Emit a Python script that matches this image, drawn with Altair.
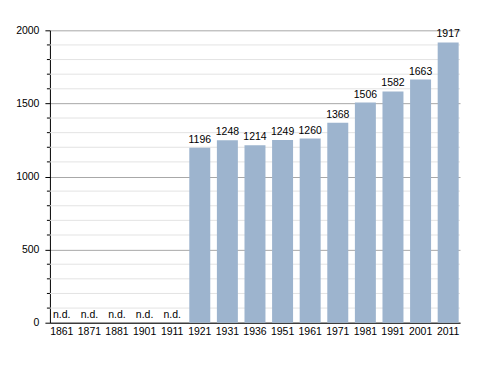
import altair as alt
import pandas as pd

years = ["1861", "1871", "1881", "1901", "1911", "1921", "1931", "1936",
         "1951", "1961", "1971", "1981", "1991", "2001", "2011"]
values = [None, None, None, None, None, 1196, 1248, 1214, 1249, 1260,
          1368, 1506, 1582, 1663, 1917]
major_ticks = [0, 500, 1000, 1500, 2000]
minor_ticks = [v for v in range(100, 2000, 100) if v % 500 != 0]

df = pd.DataFrame({
    "year": years,
    "value": values,
    "label": [str(v) if v is not None else "n.d." for v in values],
    "ypos": [v if v is not None else 0 for v in values],
})
minor_df = pd.DataFrame({"v": minor_ticks})

FONT = "Liberation Sans"
FS = 10.5
yscale = alt.Scale(domain=[0, 2000], nice=False)
yaxis = alt.Axis(values=major_ticks, format="d", tickSize=5, tickColor="#000",
                 domainColor="#000", grid=True, gridColor="#a8a8a8",
                 labelColor="#000", labelFont=FONT, labelFontSize=FS,
                 labelPadding=6)

x = alt.X("year:O", sort=years, title=None,
          scale=alt.Scale(paddingInner=0.24, paddingOuter=0.05),
          axis=alt.Axis(labelAngle=0, ticks=False, domainColor="#000",
                        labelColor="#000", labelFont=FONT, labelFontSize=FS,
                        labelPadding=4, grid=False))

minor_grid = alt.Chart(minor_df).mark_rule(color="#e3e3e3", strokeWidth=1).encode(
    y=alt.Y("v:Q", scale=yscale, title=None, axis=yaxis),
    x=alt.value(0), x2=alt.value(411),
)
minor_tick = alt.Chart(minor_df).mark_rule(color="#000", strokeWidth=1).encode(
    y=alt.Y("v:Q", scale=yscale, title=None, axis=yaxis),
    x=alt.value(-3), x2=alt.value(0),
)

bars = alt.Chart(df).mark_bar(color="#9DB4CE").encode(
    x=x,
    y=alt.Y("value:Q", scale=yscale, title=None, axis=yaxis),
)

text = alt.Chart(df).mark_text(baseline="bottom", dy=-3, font=FONT,
                               fontSize=FS, color="#000").encode(
    x=alt.X("year:O", sort=years, title=None),
    y=alt.Y("ypos:Q", scale=yscale, title=None, axis=yaxis),
    text="label:N",
)

chart = alt.layer(minor_grid, bars, minor_tick, text).properties(
    width=411, height=293,
    padding={"left": 42, "top": 22, "right": 20, "bottom": 30},
    autosize=alt.AutoSizeParams(type="none"),
).configure_view(stroke=None)

chart.save("out.html", embed_options={"renderer": "svg", "actions": False})
